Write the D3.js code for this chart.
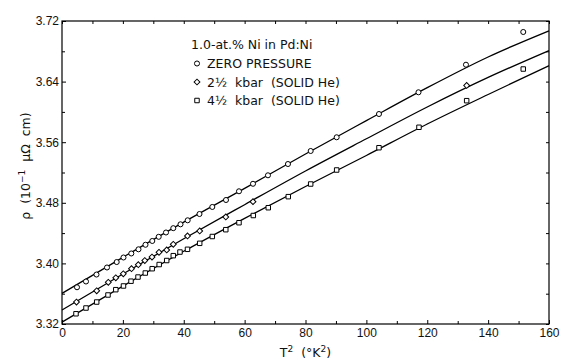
<!DOCTYPE html>
<html>
<head>
<meta charset="utf-8">
<script src="https://cdn.jsdelivr.net/npm/d3@7"></script>
<style>
  body { margin: 0; background: #fff; }
  svg { display: block; font-family: "DejaVu Sans", sans-serif; }
</style>
</head>
<body>
<svg width="564" height="362"></svg>
<script>

// measured points, T^2 (K^2) vs rho (10^-1 micro-ohm cm)
var zeroT2  = [4.93, 7.88, 11.33, 14.78, 17.97, 20.20, 22.77, 25.13, 27.43, 29.66, 31.77, 34.17, 36.56, 38.93, 41.29, 45.17, 49.38, 53.88, 58.15, 62.75, 67.67, 74.24, 81.70, 90.24, 104.14, 117.12, 132.72, 151.54];
var zeroRho = [3.3685, 3.3761, 3.3853, 3.3946, 3.4018, 3.4078, 3.4131, 3.4186, 3.4246, 3.4296, 3.4351, 3.4408, 3.4465, 3.4516, 3.4569, 3.4652, 3.4745, 3.4837, 3.4952, 3.5051, 3.5163, 3.5312, 3.5484, 3.5665, 3.5972, 3.6259, 3.6623, 3.7055];

var halfT2  = [4.76, 11.40, 15.21, 17.67, 20.14, 22.83, 25.07, 27.20, 29.57, 31.87, 34.40, 36.56, 41.23, 45.24, 53.81, 62.75, 132.95];
var halfRho = [3.3490, 3.3638, 3.3751, 3.3810, 3.3863, 3.3930, 3.3983, 3.4038, 3.4084, 3.4147, 3.4177, 3.4252, 3.4362, 3.4428, 3.4613, 3.4815, 3.6349];

var fourT2  = [4.60, 7.88, 11.40, 15.11, 17.67, 20.20, 22.67, 24.97, 27.37, 29.63, 31.93, 34.40, 36.56, 38.76, 41.23, 45.24, 49.38, 53.81, 58.15, 62.85, 67.77, 74.34, 81.70, 90.24, 104.14, 117.28, 132.95, 151.54];
var fourRho = [3.3335, 3.3411, 3.3490, 3.3583, 3.3653, 3.3702, 3.3765, 3.3820, 3.3873, 3.3930, 3.3985, 3.4038, 3.4102, 3.4150, 3.4186, 3.4265, 3.4355, 3.4445, 3.4537, 3.4632, 3.4735, 3.4881, 3.5048, 3.5233, 3.5527, 3.5797, 3.6148, 3.6566];

// fitted curves
var fitT2      = [0, 20, 40, 60, 80, 100, 120, 140, 160];
var zeroFit    = [3.3605, 3.4080, 3.4545, 3.4990, 3.5445, 3.5885, 3.6320, 3.6725, 3.7070];
var halfFit    = [3.3385, 3.3860, 3.4325, 3.4775, 3.5220, 3.5645, 3.6065, 3.6455, 3.6810];
var fourFit    = [3.3225, 3.3700, 3.4160, 3.4595, 3.5015, 3.5425, 3.5840, 3.6230, 3.6610];

var xTicks      = [0, 20, 40, 60, 80, 100, 120, 140, 160];
var xMinorTicks = [10, 30, 50, 70, 90, 110, 130, 150];
var yTicks      = [3.32, 3.40, 3.48, 3.56, 3.64, 3.72];
var yMinorTicks = [3.36, 3.44, 3.52, 3.60, 3.68];

var svg = d3.select("svg");

var x = d3.scaleLinear().domain([0, 160]).range([62, 549]);
var y = d3.scaleLinear().domain([3.32, 3.72]).range([324, 21]);

// frame
svg.append("rect")
  .attr("x", x(0)).attr("y", y(3.72))
  .attr("width", x(160) - x(0)).attr("height", y(3.32) - y(3.72))
  .attr("fill", "none").attr("stroke", "#000").attr("stroke-width", 1.2);

function styleAxis(g) {
  g.select(".domain").remove();
  g.selectAll(".tick line").attr("stroke", "#000").attr("stroke-width", 1);
  g.selectAll(".tick text").attr("fill", "#111").style("font-size", "12px");
}

// bottom
svg.append("g").attr("transform", "translate(0," + y(3.32) + ")")
  .call(d3.axisBottom(x).tickValues(xTicks).tickSizeInner(-4).tickSizeOuter(0).tickPadding(4).tickFormat(d3.format("d")))
  .call(styleAxis);
svg.append("g").attr("transform", "translate(0," + y(3.32) + ")")
  .call(d3.axisBottom(x).tickValues(xMinorTicks).tickSizeInner(-3).tickSizeOuter(0).tickFormat(""))
  .call(styleAxis);
// top
svg.append("g").attr("transform", "translate(0," + y(3.72) + ")")
  .call(d3.axisTop(x).tickValues(xTicks.concat(xMinorTicks)).tickSizeInner(-3).tickSizeOuter(0).tickFormat(""))
  .call(styleAxis);
// left
svg.append("g").attr("transform", "translate(" + x(0) + ",0)")
  .call(d3.axisLeft(y).tickValues(yTicks).tickSizeInner(-4).tickSizeOuter(0).tickPadding(3).tickFormat(d3.format(".2f")))
  .call(styleAxis);
svg.append("g").attr("transform", "translate(" + x(0) + ",0)")
  .call(d3.axisLeft(y).tickValues(yMinorTicks).tickSizeInner(-3).tickSizeOuter(0).tickFormat(""))
  .call(styleAxis);
// right
svg.append("g").attr("transform", "translate(" + x(160) + ",0)")
  .call(d3.axisRight(y).tickValues(yTicks.concat(yMinorTicks)).tickSizeInner(-3).tickSizeOuter(0).tickFormat(""))
  .call(styleAxis);

// fitted curves
var line = d3.line()
  .x(function(d) { return x(d[0]); })
  .y(function(d) { return y(d[1]); })
  .curve(d3.curveMonotoneX);

[zeroFit, halfFit, fourFit].forEach(function(fit) {
  svg.append("path")
    .datum(d3.zip(fitT2, fit))
    .attr("d", line)
    .attr("fill", "none")
    .attr("stroke", "#000")
    .attr("stroke-width", 1.3);
});

// markers
var circleSym  = d3.symbol().type(d3.symbolCircle).size(20);
var squareSym  = d3.symbol().type(d3.symbolSquare).size(20);
var diamondSym = d3.symbol().type(d3.symbolSquare).size(17);

function marks(t2, rho, sym, rot) {
  svg.append("g").selectAll("path")
    .data(d3.zip(t2, rho))
    .enter().append("path")
    .attr("d", sym)
    .attr("transform", function(d) { return "translate(" + x(d[0]) + "," + y(d[1]) + ") rotate(" + rot + ")"; })
    .attr("fill", "#fff")
    .attr("stroke", "#000")
    .attr("stroke-width", 1);
}
marks(zeroT2, zeroRho, circleSym, 0);
marks(halfT2, halfRho, diamondSym, 45);
marks(fourT2, fourRho, squareSym, 0);

// legend
var legend = svg.append("g").style("font-size", "12.5px").attr("fill", "#111");
legend.append("text").attr("x", 191).attr("y", 49).text("1.0-at.% Ni in Pd:Ni");

var legendRows = [
  { sym: circleSym,  rot: 0,  y: 63.5, label: "ZERO PRESSURE" },
  { sym: diamondSym, rot: 45, y: 82,   label: "2\u00BD  kbar  (SOLID He)" },
  { sym: squareSym,  rot: 0,  y: 100.5, label: "4\u00BD  kbar  (SOLID He)" }
];
legendRows.forEach(function(r) {
  legend.append("path").attr("d", r.sym)
    .attr("transform", "translate(197," + r.y + ") rotate(" + r.rot + ")")
    .attr("fill", "#fff").attr("stroke", "#000");
  legend.append("text").attr("x", 207).attr("y", r.y + 4.5)
    .attr("xml:space", "preserve").style("white-space", "pre").text(r.label);
});

// axis titles
var xt = svg.append("text").attr("x", 305.5).attr("y", 357).attr("text-anchor", "middle")
  .style("font-size", "12.5px").attr("fill", "#111").style("white-space", "pre");
xt.append("tspan").text("T");
xt.append("tspan").attr("dy", -5).style("font-size", "9px").text("2");
xt.append("tspan").attr("dy", 5).text("  (\u00B0K");
xt.append("tspan").attr("dy", -5).style("font-size", "9px").text("2");
xt.append("tspan").attr("dy", 5).text(")");

var yt = svg.append("text").attr("transform", "translate(30,166) rotate(-90)").attr("text-anchor", "middle")
  .style("font-size", "12.5px").attr("fill", "#111").style("white-space", "pre");
yt.append("tspan").text("\u03C1  (10");
yt.append("tspan").attr("dy", -5).style("font-size", "9px").text("\u22121");
yt.append("tspan").attr("dy", 5).text("  \u03BC\u03A9  cm)");

</script>
</body>
</html>
